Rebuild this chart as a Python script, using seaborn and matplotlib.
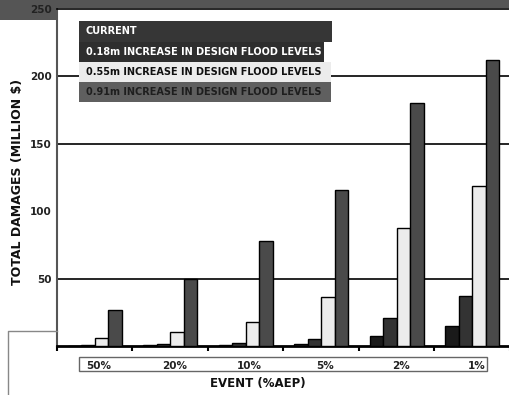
import numpy as np
import pandas as pd
import matplotlib
matplotlib.use("Agg")
import matplotlib.pyplot as plt
import matplotlib.transforms as mtransforms
from matplotlib.patches import Rectangle, Polygon
from matplotlib.lines import Line2D
import seaborn as sns

events = ["50%", "20%", "10%", "5%", "2%", "1%"]
scenarios = [
    "CURRENT",
    "0.18m INCREASE IN DESIGN FLOOD LEVELS",
    "0.55m INCREASE IN DESIGN FLOOD LEVELS",
    "0.91m INCREASE IN DESIGN FLOOD LEVELS",
]
current = [0.3, 0.5, 0.5, 1.5, 7.4, 14.8]
rise_018 = [0.8, 1.7, 2.5, 5.0, 20.5, 37.3]
rise_055 = [5.7, 10.4, 17.8, 36.5, 87.4, 118.7]
rise_091 = [26.7, 50.0, 77.8, 115.6, 180.5, 211.9]
yticks = [50, 100, 150, 200, 250]
gridlines = [50, 150, 200]

bar_colors = ["#1a1a1a", "#333333", "#ececec", "#4a4a4a"]
row_colors = ["#363636", "#2e2e2e", "#ececec", "#5f5f5f"]
row_text = ["white", "white", "#111111", "#1e1e1e"]

df = pd.DataFrame({
    "event": np.repeat(events, 4),
    "scenario": scenarios * len(events),
    "value": np.ravel(np.column_stack([current, rise_018, rise_055, rise_091])),
})

W, H = 510, 395
fig = plt.figure(figsize=(W / 100, H / 100), dpi=100)


def fx(x):
    return x / W


def fy(y):
    return 1 - y / H


# grey header band behind the plot
band = Polygon([(fx(0), fy(0)), (fx(W), fy(0)), (fx(W), fy(8)), (fx(57), fy(8)),
                (fx(57), fy(20)), (fx(0), fy(20))], closed=True,
               transform=fig.transFigure, facecolor="#555555", edgecolor="none", zorder=-5)
fig.patches.append(band)

ax = fig.add_axes([fx(57), fy(346), fx(W) - fx(57), fy(9) - fy(346)])
sns.barplot(data=df, x="event", y="value", hue="scenario", order=events,
            hue_order=scenarios, palette=bar_colors, width=0.72,
            edgecolor="black", linewidth=1.0, saturation=1, ax=ax, legend=False,
            errorbar=None, zorder=3)

ax.set_ylim(0, 250)
ax.set_xlim(-0.5, 5.5)
for g in gridlines:
    ax.axhline(g, color="black", lw=1.2, zorder=1)

ax.set_yticks(yticks)
ax.set_yticklabels([str(v) for v in yticks], fontsize=7.5, fontweight="bold", color="#222222")
ax.tick_params(axis="y", length=0, pad=4)

ax.set_xticks(range(len(events)))
ax.set_xticklabels(events, fontsize=7.5, fontweight="bold", color="#222222")
ax.set_xticks(np.arange(-0.5, 5.6, 1.0), minor=True)
ax.tick_params(axis="x", which="major", length=0, pad=11)
ax.tick_params(axis="x", which="minor", length=3.5, width=1.5, color="black")
shift = mtransforms.ScaledTranslation(4 / 100, 0, fig.dpi_scale_trans)
for lab in ax.get_xticklabels():
    lab.set_transform(lab.get_transform() + shift)

ax.set_xlabel("")
ax.set_ylabel("")
ax.spines["right"].set_visible(False)
ax.spines["top"].set_color("black")
ax.spines["top"].set_linewidth(1.2)
ax.spines["left"].set_color("#555555")
ax.spines["left"].set_linewidth(1.5)
ax.spines["bottom"].set_color("black")
ax.spines["bottom"].set_linewidth(2.0)

# scenario key drawn as shaded text rows
rows = [(21, 42, 332), (42, 62, 324), (62, 82, 331), (82, 102, 331)]
for (y0, y1, x1), name, bg, tc in zip(rows, scenarios, row_colors, row_text):
    fig.patches.append(Rectangle((fx(79), fy(y1)), fx(x1) - fx(79), fy(y0) - fy(y1),
                                 transform=fig.transFigure, facecolor=bg,
                                 edgecolor="none", zorder=5))
    fig.text(fx(86), fy((y0 + y1) / 2), name, ha="left", va="center",
             fontsize=7, fontweight="bold", color=tc, zorder=6)

# frame around the event labels
fig.patches.append(Rectangle((fx(79), fy(371)), fx(487) - fx(79), fy(357) - fy(371),
                             transform=fig.transFigure, facecolor="none",
                             edgecolor="#666666", lw=1.0, zorder=4))

# corner bracket at lower left
fig.lines.append(Line2D([fx(8), fx(8), fx(57)], [fy(H), fy(331), fy(331)],
                        transform=fig.transFigure, color="#888888", lw=1.0))

fig.text(fx(258), fy(383), "EVENT (%AEP)", ha="center", va="center",
         fontsize=8.5, fontweight="bold", color="#111111")
fig.text(fx(18), fy(182), "TOTAL DAMAGES (MILLION $)", ha="center", va="center",
         rotation=90, fontsize=9, fontweight="bold", color="#111111")

fig.savefig("out.png", dpi=100)
